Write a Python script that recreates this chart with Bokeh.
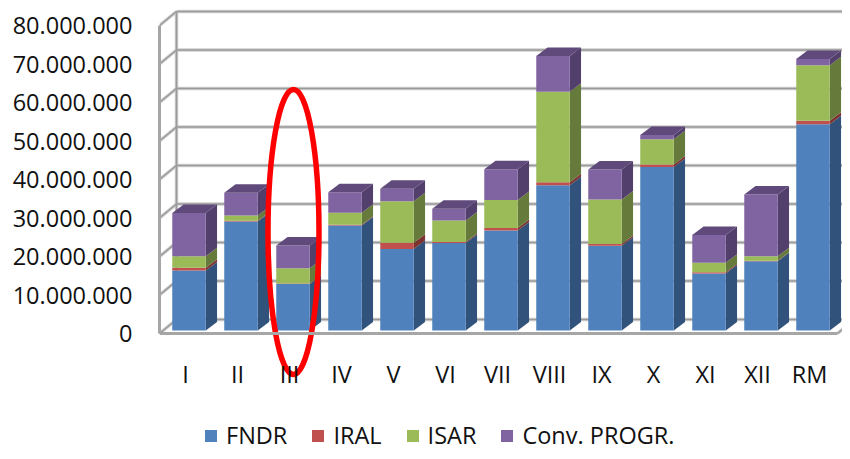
from bokeh.plotting import figure
from bokeh.models import FixedTicker, Legend, LegendItem, Range1d
from bokeh.embed import file_html
from bokeh.resources import INLINE

categories = ["I","II","III","IV","V","VI","VII","VIII","IX","X","XI","XII","RM"]
FNDR = [15600000,28300000,12100000,27300000,21200000,22700000,26000000,37700000,22000000,42500000,14800000,18000000,53600000]
IRAL = [700000,200000,100000,200000,1600000,300000,600000,800000,500000,600000,300000,100000,900000]
ISAR = [3000000,1400000,4000000,3100000,10800000,5600000,7300000,23500000,11500000,6600000,2500000,1200000,14400000]
CONV = [11200000,5900000,5900000,5300000,3200000,3000000,8000000,9300000,7800000,1100000,7200000,16000000,1600000]
y_ticks = [0,10000000,20000000,30000000,40000000,50000000,60000000,70000000,80000000]
y_tick_labels = ["0","10.000.000","20.000.000","30.000.000","40.000.000","50.000.000","60.000.000","70.000.000","80.000.000"]
series = [("FNDR",FNDR,"#4f81bd","#30527b"),("IRAL",IRAL,"#c0504d","#7c3330"),
          ("ISAR",ISAR,"#9bbb59","#657a3b"),("Conv. PROGR.",CONV,"#8064a2","#533f6b")]
top_colour = "#604a7b"

W, H = 842, 451
LEFT, ZERO, TOP = 159, 333, 4
PX_X = 52.0            # px per category
PX_Y = 38.5 / 1e7      # px per unit of value
FONT = "Open Sans"

def ux(px): return px / PX_X
def uy(px): return px / PX_Y

p = figure(width=W, height=H, output_backend="svg", toolbar_location=None, tools="",
           x_range=Range1d(0, ux(W - LEFT)),
           y_range=Range1d(-uy(H - ZERO), uy(ZERO - TOP)),
           min_border_left=LEFT, min_border_right=0, min_border_top=TOP, min_border_bottom=0,
           margin=(0, -8, -8, 0), outline_line_color=None, background_fill_color="white")
p.grid.visible = False

# axes
ya = p.yaxis[0]
ya.ticker = FixedTicker(ticks=y_ticks)
ya.major_label_overrides = dict(zip(y_ticks, y_tick_labels))
ya.bounds = (y_ticks[0], y_ticks[-1])
ya.major_tick_line_color = None
ya.minor_tick_line_color = None
ya.axis_line_color = "#a6a6a6"
ya.axis_line_width = 3
ya.major_label_text_font = FONT
ya.major_label_text_font_size = "23.5px"
ya.major_label_text_color = "#111111"
ya.major_label_standoff = 21

cat_pos = [i + 0.5 for i in range(len(categories))]
xa = p.xaxis[0]
xa.fixed_location = 0
xa.ticker = FixedTicker(ticks=cat_pos)
xa.major_label_overrides = dict(zip(cat_pos, categories))
xa.bounds = (0, ux(678))
xa.major_tick_line_color = None
xa.minor_tick_line_color = None
xa.axis_line_color = "#a6a6a6"
xa.axis_line_width = 3
xa.major_label_text_font = FONT
xa.major_label_text_font_size = "23.5px"
xa.major_label_text_color = "#111111"
xa.major_label_standoff = 18

# walls
wdx, wdy = ux(17), uy(14)
x_end = ux(678)
for col, lw in (("#cfcfcf", 3.5), ("#9a9a9a", 1.6)):
    p.segment(x0=[wdx] * len(y_ticks), y0=[t + wdy for t in y_ticks],
              x1=[x_end + wdx] * len(y_ticks), y1=[t + wdy for t in y_ticks],
              line_color=col, line_width=lw)
    p.segment(x0=[0] * len(y_ticks), y0=y_ticks, x1=[wdx] * len(y_ticks),
              y1=[t + wdy for t in y_ticks], line_color=col, line_width=lw)
    p.segment(x0=[wdx], y0=[wdy], x1=[wdx], y1=[y_ticks[-1] + wdy], line_color=col, line_width=lw)
    p.segment(x0=[x_end], y0=[0], x1=[x_end + wdx], y1=[wdy], line_color=col, line_width=lw)

# bars
off_x, base = ux(3.5), uy(3)
bw = ux(33.5)
ddx, ddy = ux(11.3), uy(8.5)
centers = [c + off_x for c in cat_pos]
rights = [c + bw / 2 for c in centers]
lefts = [c - bw / 2 for c in centers]
bottoms = [base] * len(categories)
items = []
for name, vals, col, side in series:
    tops = [b + v for b, v in zip(bottoms, vals)]
    p.patches(xs=[[r, r + ddx, r + ddx, r] for r in rights],
              ys=[[b, b + ddy, t + ddy, t] for b, t in zip(bottoms, tops)],
              fill_color=side, line_color=None)
    r_ = p.vbar(x=centers, width=bw, bottom=bottoms, top=tops, fill_color=col, line_color=None)
    items.append(LegendItem(label=name, renderers=[r_]))
    bottoms = tops
p.patches(xs=[[l, r, r + ddx, l + ddx] for l, r in zip(lefts, rights)],
          ys=[[t, t, t + ddy, t + ddy] for t in bottoms],
          fill_color=top_colour, line_color=None)

# red ellipse
p.ellipse(x=[ux(293 - LEFT)], y=[uy(ZERO - 231.5)], width=[ux(51)], height=[uy(285)],
          fill_color=None, line_color="#ff0000", line_width=5.5)

legend = Legend(items=items, orientation="horizontal", location=(44, 0),
                glyph_width=15, glyph_height=15, label_standoff=8, spacing=23,
                padding=0, margin=0, border_line_color=None, background_fill_alpha=0,
                label_text_font=FONT, label_text_font_size="23.5px", label_text_color="#111111")
p.add_layout(legend, "center")

open("out.html", "w").write(file_html(p, INLINE))
